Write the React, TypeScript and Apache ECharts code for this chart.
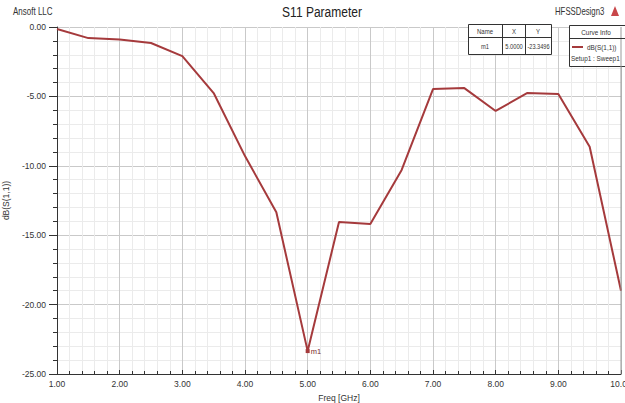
import React, { useEffect, useRef } from "react";
import * as echarts from "echarts";

const freqGHz = [1.0, 1.5, 2.0, 2.5, 3.0, 3.5, 4.0, 4.5, 5.0, 5.5, 6.0, 6.5, 7.0, 7.5, 8.0, 8.5, 9.0, 9.5, 10.0];
const s11dB = [-0.15, -0.8, -0.9, -1.15, -2.1, -4.76, -9.3, -13.35, -23.35, -14.05, -14.2, -10.3, -4.47, -4.4, -6.05, -4.76, -4.83, -8.63, -19.0];
const markerName = "m1";
const markerX = 5.0;
const markerY = -23.3496;
const tableHeaders = ["Name", "X", "Y"];
const tableRow = ["m1", "5.0000", "-23.3496"];

const FONT = "'Liberation Sans', Arial, sans-serif";
const LINE = "#a53a3c";

export default function App() {
  const ref = useRef<HTMLDivElement>(null);
  useEffect(() => {
    if (!ref.current) return;
    const chart = echarts.init(ref.current, null, { renderer: "svg" });
    const data = freqGHz.map((x, i) => [x, s11dB[i]]);
    const txt = (x: number, y: number, text: string, size: number, align = "left", color = "#333", sx = 0.8) => ({
      type: "text",
      x,
      y,
      scaleX: sx,
      style: { text, fontSize: size, fontFamily: FONT, fill: color, align, verticalAlign: "middle" },
      z: 100,
    });
    const ln = (x1: number, y1: number, x2: number, y2: number, stroke = "#333", w = 1) => ({
      type: "line",
      shape: { x1, y1, x2, y2 },
      style: { stroke, lineWidth: w },
      z: 100,
    });
    chart.setOption({
      animation: false,
      backgroundColor: "#ffffff",
      textStyle: { fontFamily: FONT },
      grid: { left: 57, right: 4, top: 27, bottom: 29, outerBoundsMode: "none", containLabel: false },
      xAxis: {
        type: "value",
        min: 1,
        max: 10,
        interval: 1,
        name: "Freq [GHz]",
        nameLocation: "middle",
        nameGap: 19,
        nameTextStyle: { fontSize: 8.5, color: "#333", fontFamily: FONT },
        axisLine: { show: true, onZero: false, lineStyle: { color: "#333", width: 1 } },
        axisTick: { show: true, inside: true, length: 4, lineStyle: { color: "#333" } },
        minorTick: { show: true, splitNumber: 5, length: 3, lineStyle: { color: "#333" } },
        axisLabel: { fontSize: 8.5, color: "#333", fontFamily: FONT, margin: 5, formatter: (v: number) => v.toFixed(2) },
        splitLine: { show: true, lineStyle: { color: "#c9c9c9", width: 1 } },
        minorSplitLine: { show: true, lineStyle: { color: "#ebebeb", width: 1 } },
      },
      yAxis: {
        type: "value",
        min: -25,
        max: 0,
        interval: 5,
        name: "dB(S(1,1))",
        nameLocation: "middle",
        nameGap: 37,
        nameRotate: 90,
        nameTextStyle: { fontSize: 8.5, color: "#333", fontFamily: FONT },
        axisLine: { show: true, onZero: false, lineStyle: { color: "#333", width: 1 } },
        axisTick: { show: true, inside: false, length: 8, lineStyle: { color: "#333" } },
        minorTick: { show: true, splitNumber: 5, length: 4, lineStyle: { color: "#333" } },
        axisLabel: { fontSize: 8.5, color: "#333", fontFamily: FONT, margin: 11, formatter: (v: number) => v.toFixed(2) },
        splitLine: { show: true, lineStyle: { color: "#c9c9c9", width: 1 } },
        minorSplitLine: { show: true, lineStyle: { color: "#ebebeb", width: 1 } },
      },
      series: [
        {
          type: "line",
          data,
          showSymbol: false,
          symbol: "none",
          lineStyle: { color: LINE, width: 2 },
          markPoint: {
            symbol: "rect",
            symbolSize: 4,
            itemStyle: { color: LINE },
            label: {
              show: true,
              position: "right",
              distance: 1,
              formatter: markerName,
              fontSize: 7.5,
              color: "#7a2a2a",
              fontFamily: FONT,
            },
            data: [{ coord: [markerX, markerY] }],
          },
        },
      ],
      graphic: [
        ln(621, 27, 621, 374, "#999999", 1),
        txt(13, 12, "Ansoft LLC", 10, "left", "#333", 0.8),
        txt(322, 12, "S11 Parameter", 15, "center", "#222", 0.8),
        txt(555, 12, "HFSSDesign3", 10, "left", "#333", 0.78),
        { type: "polygon", shape: { points: [[611, 16], [615, 6], [619, 16]] }, style: { fill: "#c8474a" }, z: 100 },
        { type: "rect", shape: { x: 468.5, y: 24.5, width: 83, height: 30 }, style: { fill: "#ffffff", stroke: "#333", lineWidth: 1 }, z: 99 },
        ln(468, 37.5, 551, 37.5),
        ln(502.5, 24, 502.5, 54),
        ln(525.5, 24, 525.5, 54),
        txt(485, 31, tableHeaders[0], 8, "center", "#333", 0.75),
        txt(514, 31, tableHeaders[1], 8, "center", "#333", 0.75),
        txt(538, 31, tableHeaders[2], 8, "center", "#333", 0.75),
        txt(485, 46, tableRow[0], 8, "center", "#333", 0.72),
        txt(514, 46, tableRow[1], 8, "center", "#333", 0.72),
        txt(538.5, 46, tableRow[2], 8, "center", "#333", 0.7),
        { type: "rect", shape: { x: 569.5, y: 25.5, width: 60, height: 41 }, style: { fill: "#ffffff", stroke: "#333", lineWidth: 1 }, z: 99 },
        ln(569, 38.5, 625, 38.5),
        txt(596, 32, "Curve Info", 8, "center", "#333", 0.8),
        ln(572, 47, 583, 47, LINE, 2),
        txt(587, 47, "dB(S(1,1))", 8, "left", "#333", 0.8),
        txt(571, 58, "Setup1 : Sweep1", 8, "left", "#333", 0.8),
      ],
    });
    return () => chart.dispose();
  }, []);
  return <div ref={ref} style={{ position: "fixed", left: 0, top: 0, width: 625, height: 403 }} />;
}
